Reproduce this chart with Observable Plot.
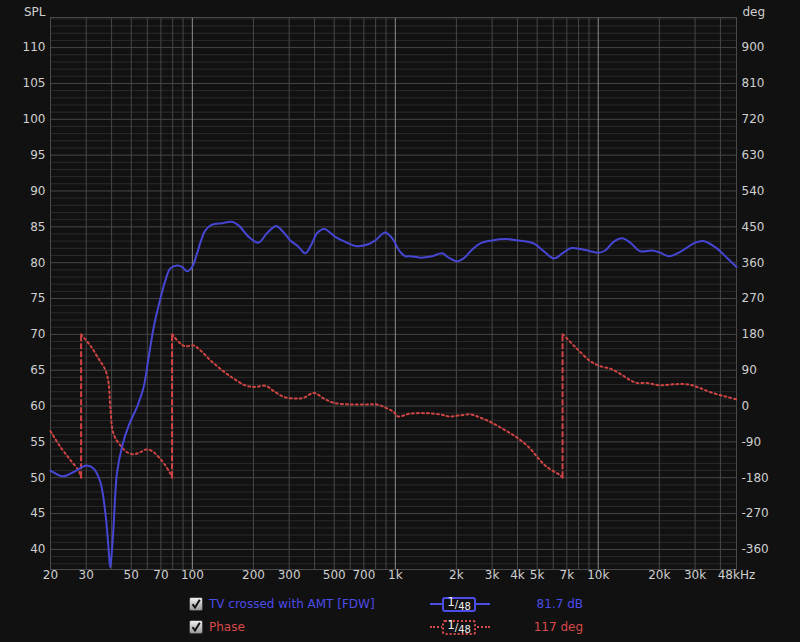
<!DOCTYPE html>
<html>
<head>
<meta charset="utf-8">
<script src="https://cdn.jsdelivr.net/npm/d3@7"></script>
<script src="https://cdn.jsdelivr.net/npm/@observablehq/plot@0.6"></script>
<style>
  html, body { margin: 0; padding: 0; background: #111111; }
  #wrap { width: 800px; font-family: "DejaVu Sans", sans-serif; }
  #legend { position: relative; width: 800px; height: 50px; font-size: 12px; }
  #legend .abs { position: absolute; white-space: nowrap; }
  .cb { width: 12px; height: 12px; border: 1px solid #444; border-radius: 2px;
        background: linear-gradient(#f0f0f0, #9a9a9a); }
  .badge { width: 30px; height: 11px; border-radius: 3px; background: #111;
           color: #eee; font-size: 10px; line-height: 11px; text-align: center; }
  .badge .one { font-size: 12px; position: relative; top: -2px; }
  .badge .den { font-size: 10px; position: relative; top: 2px; }
</style>
</head>
<body>
<div id="wrap">
  <div id="chart"></div>
  <div id="legend"></div>
</div>
<script>
// ---------- data ----------
const splFreq = [20, 23.2, 26.0, 30.1, 32.6, 35.2, 37.3, 38.7, 39.4, 40.7, 42.5, 45.0, 48.6, 53.4, 57.6, 60.9, 64.5, 68.2, 73.6, 77.9, 84.1, 89.0, 94.2, 99.7, 105.5, 110.4, 115.9, 125, 140, 156.6, 169, 189.5, 212, 233, 259, 276, 304, 334, 360, 389, 411, 447, 506, 567, 648, 740, 797, 893, 982, 1020, 1058, 1120, 1185, 1330, 1517, 1700, 1833, 2015, 2172, 2388, 2622, 2995, 3486, 4050, 4807, 5389, 6050, 6655, 7310, 8198, 9127, 10034, 10830, 11900, 13080, 14370, 16100, 18390, 20200, 22200, 25350, 30050, 33300, 38400, 43050, 48000];
const splDb = [51.0, 50.2, 50.8, 51.7, 51.3, 49.4, 45.0, 39.9, 37.5, 42.2, 50.6, 54.3, 57.3, 59.9, 62.7, 66.8, 71.0, 74.0, 77.5, 79.2, 79.6, 79.4, 78.8, 79.4, 81.3, 83.1, 84.5, 85.3, 85.5, 85.7, 85.2, 83.6, 82.8, 84.1, 85.1, 84.5, 83.1, 82.2, 81.3, 82.7, 84.1, 84.7, 83.6, 82.9, 82.3, 82.6, 83.1, 84.2, 83.1, 82.2, 81.5, 80.9, 80.9, 80.7, 80.9, 81.3, 80.7, 80.2, 80.6, 81.8, 82.7, 83.1, 83.3, 83.1, 82.7, 81.6, 80.6, 81.3, 82.0, 81.9, 81.6, 81.4, 81.7, 82.9, 83.4, 82.8, 81.6, 81.7, 81.4, 80.9, 81.5, 82.8, 83.0, 82.0, 80.7, 79.4];

const phaseFreq = [20, 22.4, 25.1, 27.5, 28.0, 28.3, 28.3, 28.6, 31.4, 34.5, 37.3, 38.7, 39.4, 40.9, 44.2, 47.7, 51.4, 55.4, 59.3, 63.3, 68.2, 73.6, 77.9, 79.4, 79.4, 80.9, 87.3, 92, 101.5, 109.5, 122.7, 140, 159.8, 182.4, 204.3, 228.8, 251.5, 281.9, 322.3, 353.9, 396.6, 444.3, 497.8, 601, 724, 812, 893, 982, 1030, 1185, 1432, 1666, 1833, 2050, 2342, 2622, 2995, 3486, 4050, 4624, 5080, 5588, 6497, 6670, 6670, 6720, 7853, 9127, 10230, 11460, 12836, 14370, 15510, 17370, 20200, 24140, 28070, 31440, 36570, 43050, 48000];
const phaseDeg = [-63, -103, -136, -162, -172, -180, 180, 177, 152, 119, 90, 56, -2, -70, -99, -116, -121, -116, -109, -113, -128, -149, -170, -180, 180, 175, 157, 150, 152, 140, 115, 90, 69, 52, 48, 51, 38, 23, 19, 21, 33, 19, 8, 4, 4, 4, -4, -15, -26, -19, -18, -21, -26, -24, -21, -29, -42, -61, -82, -107, -132, -153, -174, -180, 180, 179, 144, 113, 100, 94, 81, 65, 58, 58, 52, 55, 54, 46, 33, 23, 17];

const wrapFreq = [28.3, 79.4, 6670];

const splTicks = [40, 45, 50, 55, 60, 65, 70, 75, 80, 85, 90, 95, 100, 105, 110];
const freqTicks = [20, 30, 50, 70, 100, 200, 300, 500, 700, 1000, 2000, 3000, 4000, 5000, 7000, 10000, 20000, 30000, 48000];
const freqLabels = ["20", "30", "50", "70", "100", "200", "300", "500", "700", "1k", "2k", "3k", "4k", "5k", "7k", "10k", "20k", "30k", "48kHz"];

const minorX = [30, 40, 50, 60, 70, 80, 90, 200, 300, 400, 500, 600, 700, 800, 900,
                2000, 3000, 4000, 5000, 6000, 7000, 8000, 9000, 20000, 30000, 40000];
const decadeX = [100, 1000, 10000];

// ---------- derived tables ----------
const toDb = deg => 60 + deg / 18;
const splData = splFreq.map((f, i) => ({ f, db: splDb[i] }));
let seg = 0;
const phaseData = phaseFreq.map((f, i) => {
  if (i > 0 && Math.abs(phaseDeg[i] - phaseDeg[i - 1]) > 300) seg++;
  return { f, deg: phaseDeg[i], seg };
});
const minorY = d3.range(38, 115).filter(v => v % 5 !== 0);
const majorY = d3.range(40, 115, 5);
const xLabelData = freqTicks.map((t, i) => ({ f: t, label: freqLabels[i] }));

const BLUE = "#4646d4";
const RED = "#d04444";
const TXT = "#cfcfcf";

const chart = Plot.plot({
  width: 800,
  height: 592,
  marginTop: 17,
  marginLeft: 50,
  marginRight: 64,
  marginBottom: 23,
  style: { background: "#111111", color: TXT, fontFamily: "DejaVu Sans, sans-serif", fontSize: "12px" },
  x: { type: "log", domain: [20, 48000], axis: null },
  y: { domain: [37.2, 114.2] },
  marks: [
    Plot.ruleY(minorY, { stroke: "#2b2b2b", strokeWidth: 1 }),
    Plot.ruleY(majorY, { stroke: "#474747", strokeWidth: 1 }),
    Plot.ruleX(minorX, { stroke: "#474747", strokeWidth: 1 }),
    Plot.ruleX(decadeX, { stroke: "#8c8c8c", strokeWidth: 1 }),
    Plot.frame({ stroke: "#4a4a4a" }),
    Plot.axisY({ anchor: "left", ticks: splTicks, tickSize: 0, tickPadding: 5, label: null, fill: TXT }),
    Plot.axisY({ anchor: "right", ticks: splTicks, tickSize: 0, tickPadding: 5, label: null, fill: TXT,
                 tickFormat: d => String(Math.round((d - 60) * 18)) }),
    Plot.text(xLabelData, { x: "f", text: "label", frameAnchor: "bottom", dy: 9, fill: TXT }),
    Plot.text(["SPL"], { frameAnchor: "top-left", dx: -5, dy: -10, textAnchor: "end", fill: TXT }),
    Plot.text(["deg"], { frameAnchor: "top-right", dx: 6, dy: -10, textAnchor: "start", fill: TXT }),
    Plot.line(phaseData, { x: "f", y: d => toDb(d.deg), z: "seg", stroke: RED, strokeWidth: 2,
                           strokeDasharray: "2,3", curve: "catmull-rom" }),
    Plot.ruleX(wrapFreq, { y1: toDb(-180), y2: toDb(180), stroke: RED, strokeWidth: 2, strokeDasharray: "6,2" }),
    Plot.line(splData, { x: "f", y: "db", stroke: BLUE, strokeWidth: 2, curve: "catmull-rom" })
  ]
});
document.getElementById("chart").appendChild(chart);

// ---------- legend ----------
const legend = document.getElementById("legend");
const checkSvg = '<svg width="12" height="12" viewBox="0 0 12 12" style="display:block"><path d="M2.5 6.2 L5 9.5 L9.8 1.8" fill="none" stroke="#111" stroke-width="2"/></svg>';
function row(cy, label, color, value, dotted) {
  const top = cy - 8;
  legend.insertAdjacentHTML("beforeend", `
    <div class="abs cb" style="left:189px; top:${cy - 7}px">${checkSvg}</div>
    <div class="abs" style="left:209px; top:${top}px; line-height:16px; color:${color}">${label}</div>
    <div class="abs" style="left:430px; top:${cy - 1}px; width:60px; height:0; border-top:2px ${dotted ? "dotted" : "solid"} ${color}"></div>
    <div class="abs badge" style="left:442px; top:${cy - 7}px; border:2px ${dotted ? "dotted" : "solid"} ${color}"><span class="one">1</span>/<span class="den">48</span></div>
    <div class="abs" style="right:217px; top:${top}px; line-height:16px; color:${color}">${value}</div>
  `);
}
row(12, "TV crossed with AMT [FDW]", "#4c4ce6", "81.7 dB", false);
row(35, "Phase", "#d94a4a", "117 deg", true);
</script>
</body>
</html>
